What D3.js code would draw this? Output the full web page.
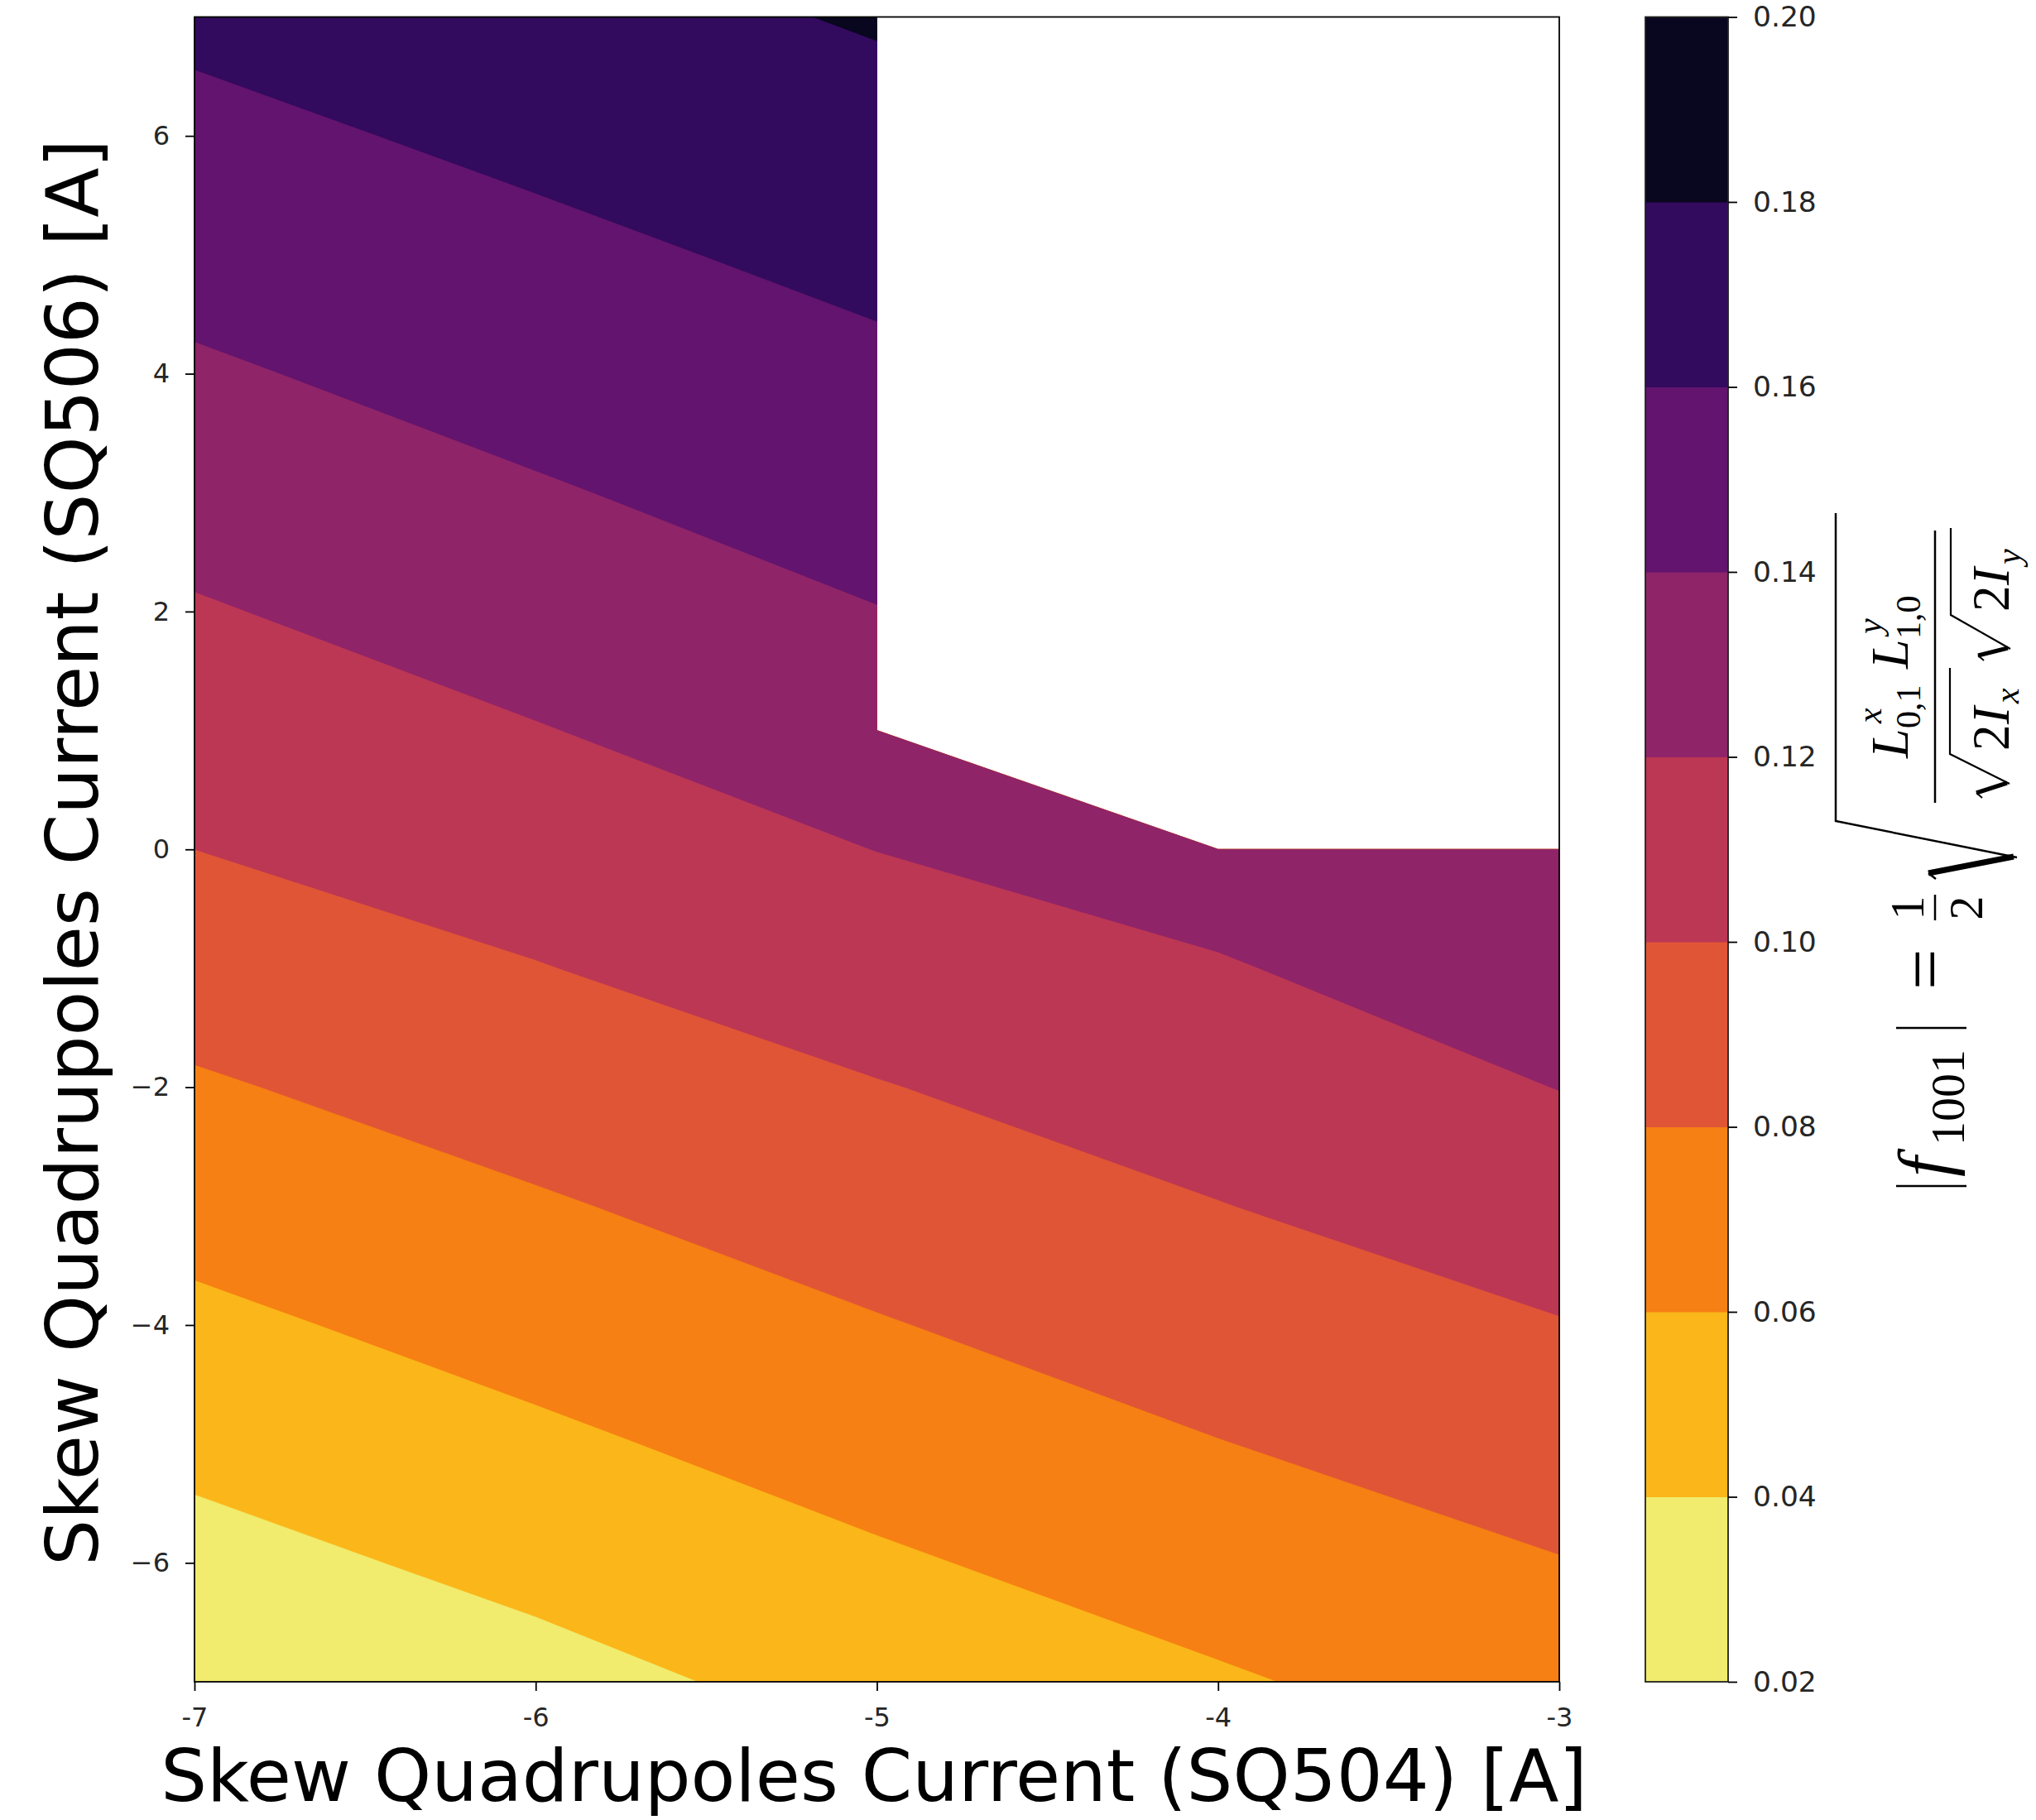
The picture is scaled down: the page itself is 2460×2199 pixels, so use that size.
<!DOCTYPE html>
<html>
<head>
<meta charset="utf-8">
<script src="https://cdn.jsdelivr.net/npm/d3@7"></script>
<style>
  html, body { margin: 0; padding: 0; background: #ffffff; }
  svg { display: block; }
</style>
</head>
<body>
<svg id="chart" width="2460" height="2199"></svg>
<script>
// ---------------- data ----------------
// SQ504 current (x) grid and SQ506 current (y) grid
const xValues = [-7, -6, -5, -4, -3];
const yValues = [-7, -6, -5, -4, -3, -2, -1, 0, 1, 2, 3, 4, 5, 6, 7];
// |f1001| along each SQ504 column, from y = -7 up to y = 7 (null = no measurement)
const f1001AtXm7 = [0.0224, 0.0336, 0.0447, 0.0558, 0.0669, 0.0779, 0.0890, 0.1000, 0.1092, 0.1184, 0.1280, 0.1376, 0.1465, 0.1552, 0.1638];
const f1001AtXm6 = [0.0338, 0.0451, 0.0564, 0.0673, 0.0781, 0.0887, 0.0993, 0.1093, 0.1192, 0.1288, 0.1384, 0.1471, 0.1556, 0.1641, 0.1726];
const f1001AtXm5 = [0.0468, 0.0575, 0.0682, 0.0789, 0.0891, 0.0992, 0.1097, 0.1202, 0.1299, 0.1395, 0.1479, 0.1563, 0.1647, 0.1732, 0.1817];
const f1001AtXm4 = [0.0580, 0.0687, 0.0795, 0.0895, 0.0995, 0.1091, 0.1187, 0.1282, null, null, null, null, null, null, null];
const f1001AtXm3 = [0.0694, 0.0793, 0.0893, 0.0992, 0.1097, 0.1203, 0.1295, 0.1385, null, null, null, null, null, null, null];
// contour levels
const levels = [0.02, 0.04, 0.06, 0.08, 0.10, 0.12, 0.14, 0.16, 0.18, 0.20];
// tick labels
const xTicks = [-7, -6, -5, -4, -3];
const xTickLabels = ["-7", "-6", "-5", "-4", "-3"];
const yTicks = [-6, -4, -2, 0, 2, 4, 6];
const yTickLabels = ["\u22126", "\u22124", "\u22122", "0", "2", "4", "6"];
const cbarTickLabels = ["0.02", "0.04", "0.06", "0.08", "0.10", "0.12", "0.14", "0.16", "0.18", "0.20"];
const xTitle = "Skew Quadrupoles Current (SQ504) [A]";
const yTitle = "Skew Quadrupoles Current (SQ506) [A]";

// ---------------- layout ----------------
const svg = d3.select("#chart");
const plot = { left: 235, right: 1884, top: 20.5, bottom: 2032 };
const cbar = { left: 1988, right: 2088 };
const sans = "'DejaVu Sans', sans-serif";
const serif = "'Liberation Serif', 'DejaVu Serif', serif";
const tickColor = "#262626";

const x = d3.scaleLinear().domain([-7, -3]).range([plot.left, plot.right]);
const y = d3.scaleLinear().domain([-7, 7]).range([plot.bottom, plot.top]);

// colours: inferno_r sampled at level mid-points
const nBands = levels.length - 1;
const bandColor = i => d3.interpolateInferno(1 - ((levels[i] + levels[i + 1]) / 2 - levels[0]) / (levels[nBands] - levels[0]));

// grid for d3.contours (row-major, row j = yValues[j]); masked points sit far below every level
const columns = [f1001AtXm7, f1001AtXm6, f1001AtXm5, f1001AtXm4, f1001AtXm3];
const MASK = -1e6;
const grid = [];
for (let j = 0; j < yValues.length; j++)
  for (let i = 0; i < xValues.length; i++)
    grid.push(columns[i][j] == null ? MASK : columns[i][j]);

const contours = d3.contours()
  .size([xValues.length, yValues.length])
  .thresholds(levels.slice(0, -1))(grid);

// contour grid coordinates -> data -> pixels
const gx = d3.scaleLinear().domain([0.5, xValues.length - 0.5]).range([x(xValues[0]), x(xValues[xValues.length - 1])]);
const gy = d3.scaleLinear().domain([0.5, yValues.length - 0.5]).range([y(yValues[0]), y(yValues[yValues.length - 1])]);
const path = d3.geoPath(d3.geoTransform({
  point(px, py) { this.stream.point(gx(px), gy(py)); }
}));

svg.append("defs").append("clipPath").attr("id", "plotClip")
  .append("rect")
  .attr("x", plot.left).attr("y", plot.top)
  .attr("width", plot.right - plot.left).attr("height", plot.bottom - plot.top);

svg.append("g").attr("clip-path", "url(#plotClip)")
  .selectAll("path")
  .data(contours)
  .join("path")
  .attr("d", path)
  .attr("fill", (d, i) => bandColor(i))
  .attr("stroke", (d, i) => bandColor(i))
  .attr("stroke-width", 0.6);

// frame
svg.append("rect")
  .attr("x", plot.left).attr("y", plot.top)
  .attr("width", plot.right - plot.left).attr("height", plot.bottom - plot.top)
  .attr("fill", "none").attr("stroke", "#000").attr("stroke-width", 1.8);

// axes
function styleAxis(g, size) {
  g.select(".domain").remove();
  g.selectAll(".tick line").attr("stroke", "#000").attr("stroke-width", 1.8);
  g.selectAll(".tick text").attr("fill", tickColor).attr("font-family", sans).attr("font-size", size);
}
svg.append("g")
  .attr("transform", `translate(0,${plot.bottom})`)
  .call(d3.axisBottom(x).tickValues(xTicks).tickFormat((d, i) => xTickLabels[i]).tickSize(11).tickPadding(20))
  .call(g => styleAxis(g, 32));
svg.append("g")
  .attr("transform", `translate(${plot.left},0)`)
  .call(d3.axisLeft(y).tickValues(yTicks).tickFormat((d, i) => yTickLabels[i]).tickSize(11).tickPadding(19))
  .call(g => styleAxis(g, 32));

// axis titles
svg.append("text")
  .attr("x", 1056).attr("y", 2176)
  .attr("text-anchor", "middle")
  .attr("font-family", sans).attr("font-size", 88).attr("fill", "#000")
  .text(xTitle);
svg.append("text")
  .attr("transform", "translate(118,1030) rotate(-90)")
  .attr("text-anchor", "middle")
  .attr("font-family", sans).attr("font-size", 88).attr("fill", "#000")
  .text(yTitle);

// ---------------- colorbar ----------------
const cY = d3.scaleLinear().domain([levels[0], levels[nBands]]).range([plot.bottom, plot.top]);
svg.append("g").selectAll("rect")
  .data(d3.range(nBands))
  .join("rect")
  .attr("x", cbar.left)
  .attr("y", i => cY(levels[i + 1]))
  .attr("width", cbar.right - cbar.left)
  .attr("height", i => cY(levels[i]) - cY(levels[i + 1]) + 0.5)
  .attr("fill", i => bandColor(i));
svg.append("rect")
  .attr("x", cbar.left).attr("y", plot.top)
  .attr("width", cbar.right - cbar.left).attr("height", plot.bottom - plot.top)
  .attr("fill", "none").attr("stroke", "#222").attr("stroke-width", 1.8);
svg.append("g")
  .attr("transform", `translate(${cbar.right},0)`)
  .call(d3.axisRight(cY).tickValues(levels).tickFormat((d, i) => cbarTickLabels[i]).tickSize(11).tickPadding(19))
  .call(g => styleAxis(g, 34.5));

// ---------------- colorbar label (math) ----------------
// local frame: u runs up the page, v runs to the right (below the baseline)
const m = svg.append("g")
  .attr("transform", "translate(2355,1436) rotate(-90)")
  .attr("font-family", serif).attr("fill", "#000");
function mtext(s, u, v, size, italic, anchor) {
  m.append("text").attr("x", u).attr("y", v)
    .attr("font-size", size)
    .attr("font-style", italic ? "italic" : "normal")
    .attr("text-anchor", anchor || "start")
    .text(s);
}
function mline(pts, w) {
  m.append("path").attr("d", d3.line()(pts))
    .attr("fill", "none").attr("stroke", "#000").attr("stroke-width", w)
    .attr("stroke-linejoin", "miter").attr("stroke-linecap", "butt");
}
// |f_1001|
mline([[3, -64], [3, 21]], 2.6);
mtext("f", 14, 0, 88, true);
mtext("1001", 52, 18, 58, false);
mline([[194, -64], [194, 21]], 2.6);
// =
mtext("=", 240, 0, 88, false);
// 1/2
mtext("1", 339, -31, 58, false, "middle");
mline([[324, -17], [355, -17]], 2.5);
mtext("2", 339, 40, 58, false, "middle");
// big radical
mline([[374, -16], [381, -25]], 2.5);
mline([[381, -25], [401, 78]], 7);
mline([[400, 82], [444, -137], [816, -137]], 2.5);
// numerator L^x_{0,1} L^y_{1,0}
mtext("L", 520, -50, 64, true);
mtext("x", 562, -82, 42, true);
mtext("0,1", 556, -35, 42, false);
mtext("L", 628, -50, 64, true);
mtext("y", 670, -82, 42, true);
mtext("1,0", 664, -35, 42, false);
// fraction bar
mline([[466, -17], [795, -17]], 2.5);
// sqrt(2 I_x)
mline([[472, 40], [478, 33]], 2);
mline([[478, 33], [490, 70]], 5);
mline([[489, 73], [525, 1], [629, 1]], 2.2);
mtext("2", 529, 72, 63, false);
mtext("I", 561, 72, 63, true);
mtext("x", 586, 84, 42, true);
// sqrt(2 I_y)
mline([[638, 42], [644, 35]], 2);
mline([[644, 35], [653, 71]], 5);
mline([[652, 74], [693, 2], [798, 2]], 2.2);
mtext("2", 697, 72, 63, false);
mtext("I", 729, 72, 63, true);
mtext("y", 754, 86, 42, true);
</script>
</body>
</html>
